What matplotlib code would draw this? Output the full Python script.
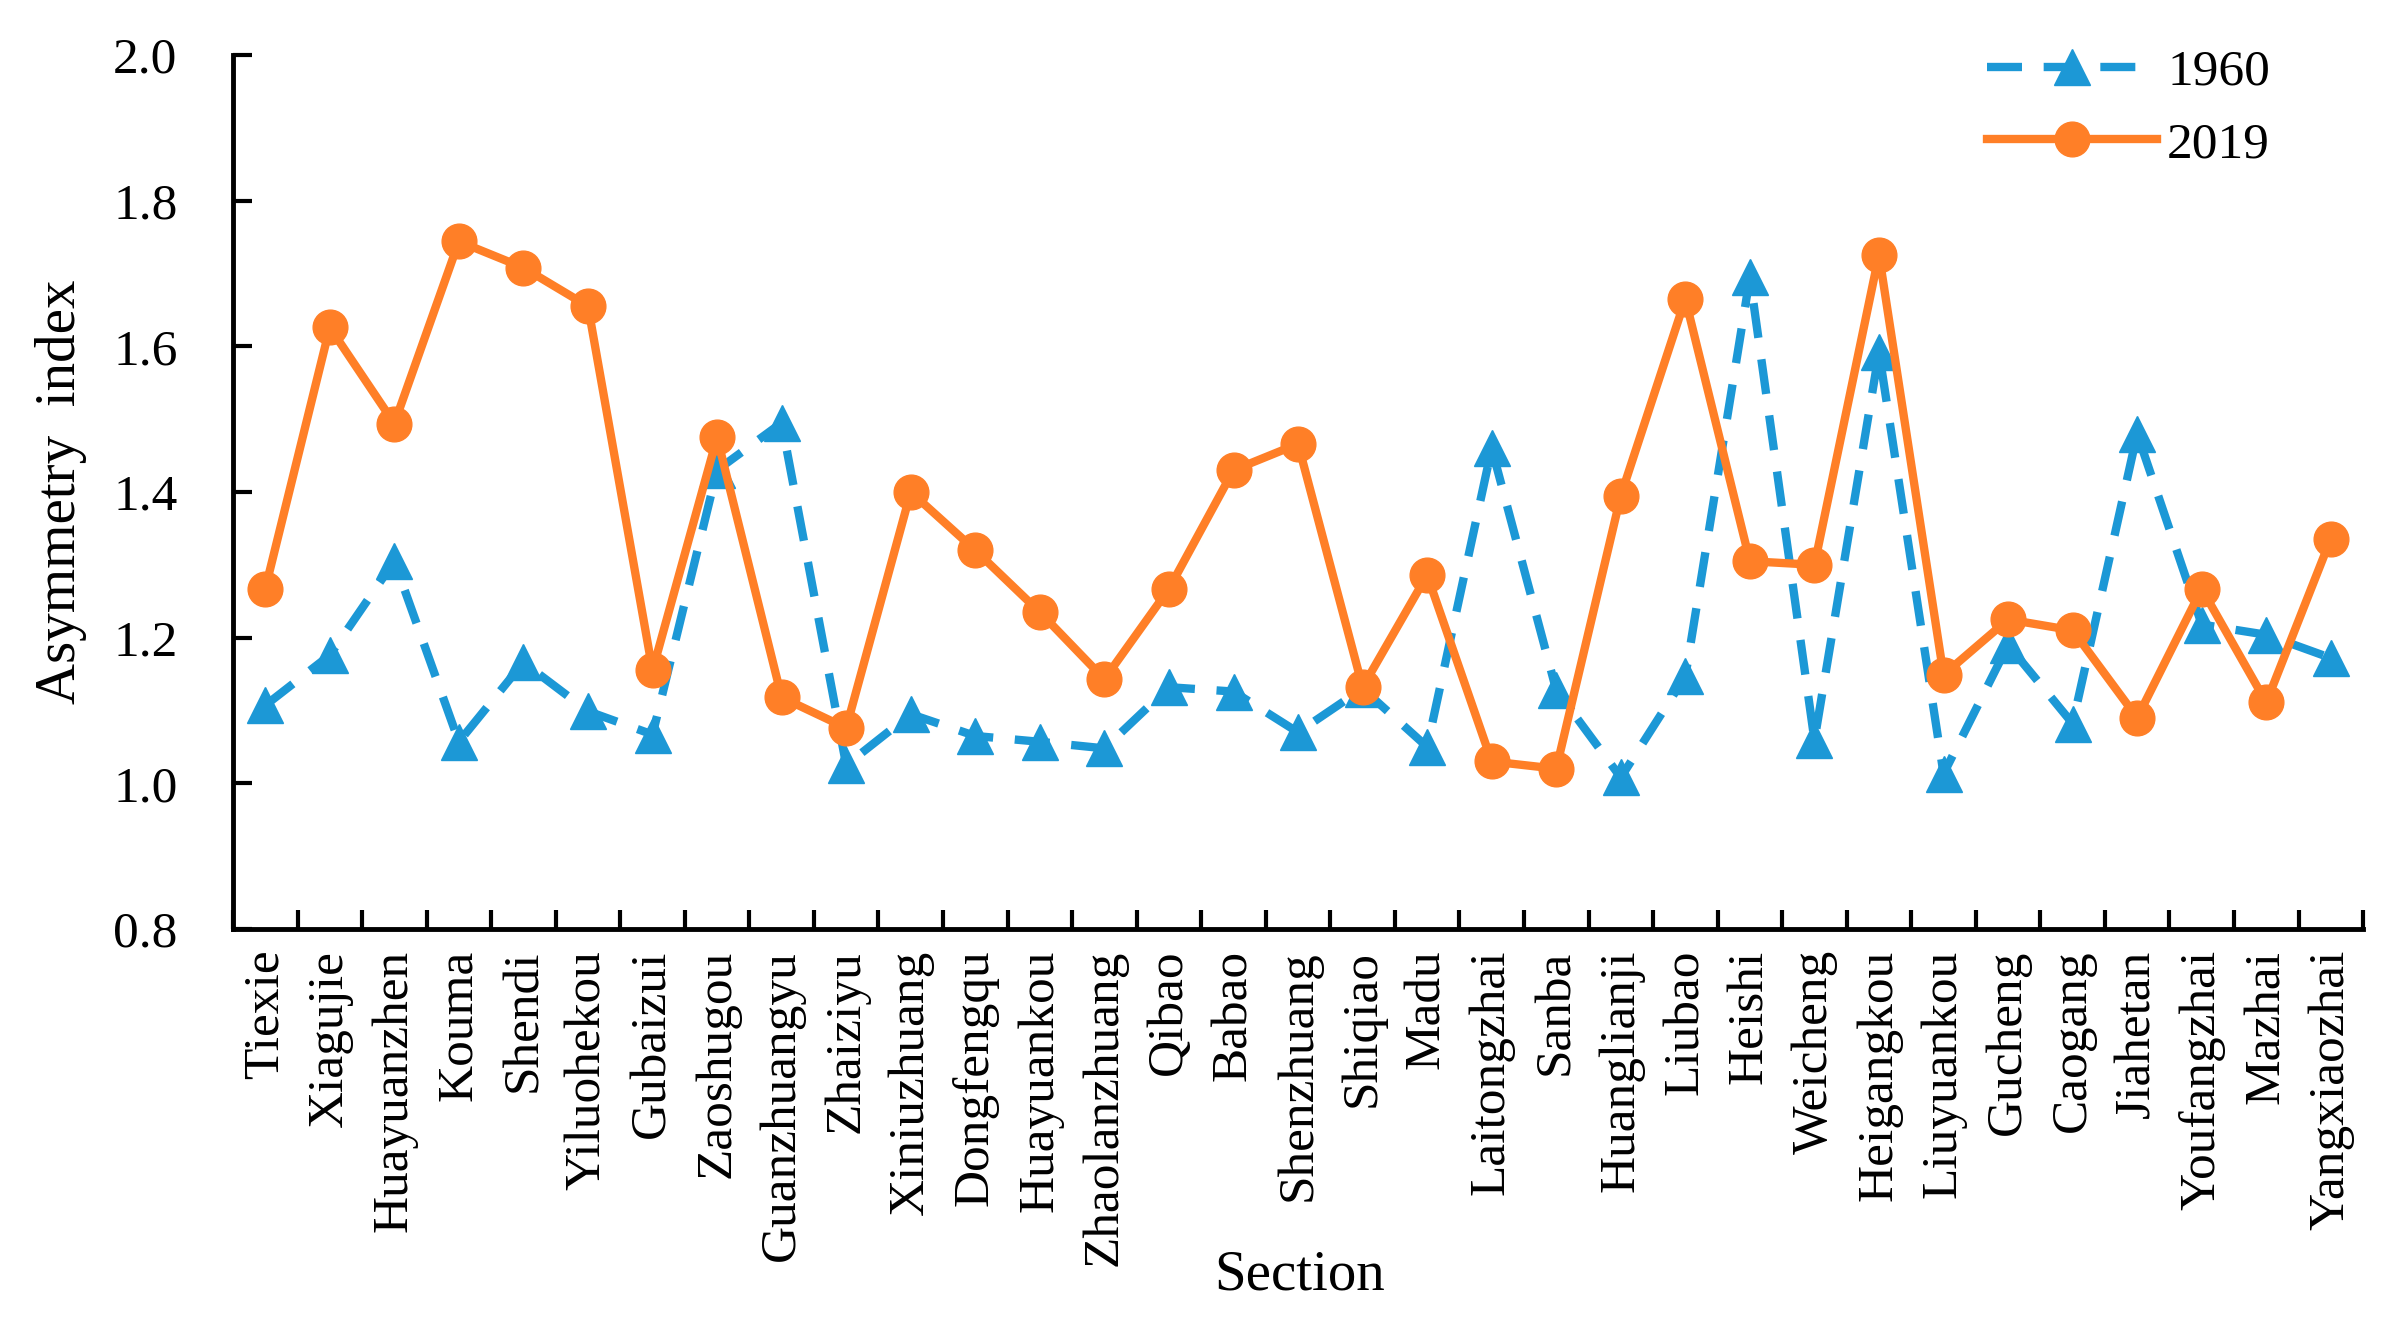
import numpy as np
import matplotlib
matplotlib.use("Agg")
import matplotlib.pyplot as plt
from matplotlib import rcParams
from matplotlib.ticker import FixedLocator

# Times-like serif
rcParams['font.family'] = 'serif'
rcParams['font.serif'] = ['Liberation Serif', 'DejaVu Serif']

sections = ['Tiexie', 'Xiagujie', 'Huayuanzhen', 'Kouma', 'Shendi', 'Yiluohekou',
            'Gubaizui', 'Zaoshugou', 'Guanzhuangyu', 'Zhaiziyu', 'Xiniuzhuang',
            'Dongfengqu', 'Huayuankou', 'Zhaolanzhuang', 'Qibao', 'Babao',
            'Shenzhuang', 'Shiqiao', 'Madu', 'Laitongzhai', 'Sanba', 'Huanglianji',
            'Liubao', 'Heishi', 'Weicheng', 'Heigangkou', 'Liuyuankou', 'Gucheng',
            'Caogang', 'Jiahetan', 'Youfangzhai', 'Mazhai', 'Yangxiaozhai']

asym_1960 = [1.107, 1.176, 1.305, 1.057, 1.166, 1.099, 1.067, 1.43, 1.495, 1.025,
             1.095, 1.065, 1.057, 1.048, 1.132, 1.126, 1.070, 1.130, 1.050, 1.460,
             1.128, 1.008, 1.147, 1.695, 1.059, 1.592, 1.013, 1.190, 1.082, 1.480,
             1.218, 1.204, 1.172]

asym_2019 = [1.267, 1.626, 1.494, 1.744, 1.708, 1.655, 1.155, 1.475, 1.118, 1.076,
             1.400, 1.320, 1.235, 1.143, 1.267, 1.430, 1.466, 1.132, 1.286, 1.030,
             1.020, 1.395, 1.665, 1.305, 1.300, 1.726, 1.149, 1.225, 1.210, 1.090,
             1.267, 1.111, 1.336]

blue = '#1C98D6'
orange = '#FF7F27'

fig = plt.figure(figsize=(23.87, 13.29), dpi=100)
ax = fig.add_axes([0.0976, 0.301, 0.8924, 0.6576])

x = np.arange(len(sections))
ax.plot(x, asym_1960, color=blue, linestyle=(0, (4.2, 2.6)), linewidth=6,
        marker='^', markersize=26, label='1960', zorder=2)
ax.plot(x, asym_2019, color=orange, linestyle='-', linewidth=6,
        marker='o', markersize=25, label='2019', zorder=3)

ax.set_xlim(-0.5, len(sections) - 0.5)
ax.set_ylim(0.8, 2.0)
ax.set_yticks(np.arange(0.8, 2.01, 0.2))
ax.set_yticklabels(['%.1f' % v for v in np.arange(0.8, 2.01, 0.2)], fontsize=37)

# category boundaries get ticks, centres get the labels
ax.xaxis.set_major_locator(FixedLocator(np.arange(-0.5, len(sections), 1.0)))
ax.set_xticklabels([])
ax.xaxis.set_minor_locator(FixedLocator(x))
ax.set_xticklabels(sections, minor=True, rotation=90, fontsize=37,
                   ha='center', va='top')
ax.tick_params(axis='x', which='minor', length=0, pad=15)
ax.tick_params(axis='x', which='major', direction='in', length=14, width=3)
ax.tick_params(axis='y', direction='in', length=14, width=3, pad=40)

for side in ['top', 'right']:
    ax.spines[side].set_visible(False)
for side in ['left', 'bottom']:
    ax.spines[side].set_linewidth(3.5)

fig.text(0.5443, 0.040, 'Section', fontsize=41, ha='center', va='center')
fig.text(0.0256, 0.63, 'Asymmetry  index', fontsize=41, ha='center',
         va='center', rotation=90)

leg = ax.legend(loc='upper right', bbox_to_anchor=(0.978, 1.06), frameon=False,
                fontsize=37, handlelength=3.3, handletextpad=0.2,
                labelspacing=0.5)

plt.savefig('out.png', dpi=100)
plt.close()
